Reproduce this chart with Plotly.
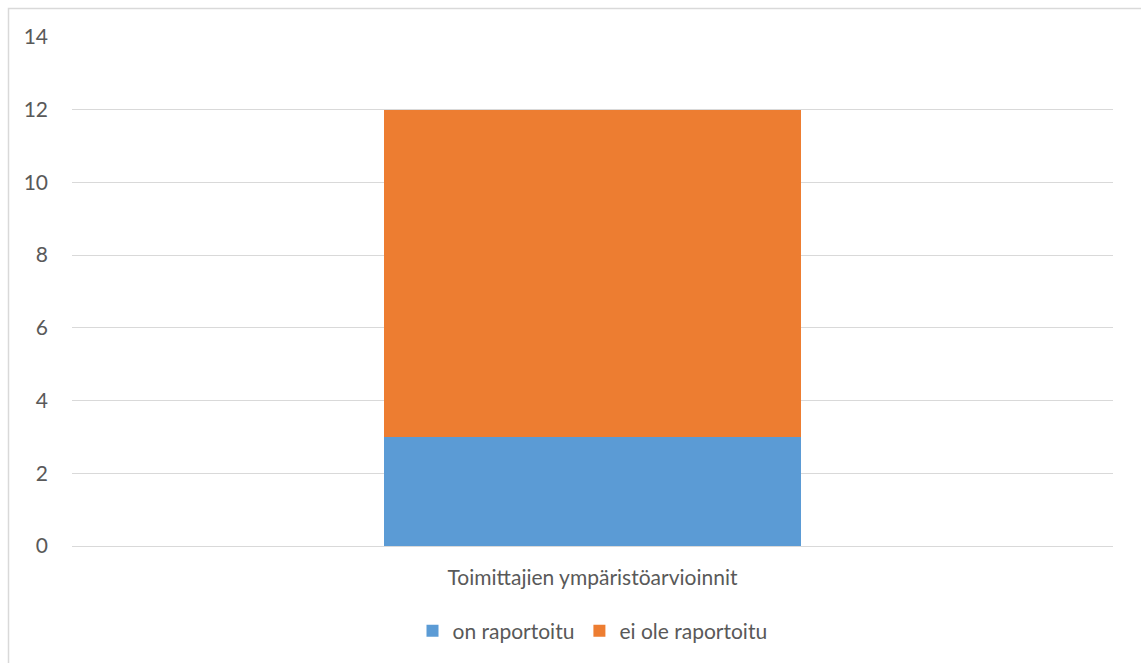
import plotly.graph_objects as go

categories = ["Toimittajien ympäristöarvioinnit"]
on_raportoitu = [3]
ei_ole_raportoitu = [9]
y_ticks = [0, 2, 4, 6, 8, 10, 12, 14]

W, H = 1141, 663
L, R, T, B = 72, 28, 37, 117
pw, ph = W - L - R, H - T - B
FS = 21
FAM = "Lato, Open Sans, sans-serif"

fig = go.Figure()
fig.add_trace(go.Bar(x=categories, y=on_raportoitu, name="on raportoitu",
                     marker=dict(color="#5B9BD5", line=dict(width=0)), width=0.4))
fig.add_trace(go.Bar(x=categories, y=ei_ole_raportoitu, name="ei ole raportoitu",
                     marker=dict(color="#ED7D31", line=dict(width=0)), width=0.4))

def px_x(x):
    return (x - L) / pw

def px_y(y):
    return (H - B - y) / ph

fig.update_layout(
    barmode="stack",
    width=W, height=H,
    margin=dict(l=L, r=R, t=T, b=B, pad=0),
    paper_bgcolor="white", plot_bgcolor="white",
    font=dict(family=FAM, size=FS, color="#595959"),
    showlegend=True,
    legend=dict(orientation="h", x=0.5, xanchor="center", y=px_y(631), yanchor="middle",
                font=dict(family=FAM, size=FS, color="#595959"),
                traceorder="normal", itemwidth=30, tracegroupgap=0),
    xaxis=dict(showgrid=False, zeroline=False, showline=False, ticks="",
               range=[-0.5, 0.5], ticklabelstandoff=17,
               tickfont=dict(family=FAM, size=FS, color="#595959")),
    yaxis=dict(range=[0, 14], tickvals=y_ticks, showgrid=True, gridcolor="#d9d9d9",
               gridwidth=1, zeroline=True, zerolinecolor="#d9d9d9", zerolinewidth=1,
               showline=False, ticks="", ticklabelstandoff=23,
               tickfont=dict(family=FAM, size=FS, color="#595959")),
    shapes=[dict(type="rect", xref="paper", yref="paper",
                 x0=px_x(8.5), x1=px_x(1150), y0=px_y(670), y1=px_y(8.5),
                 line=dict(color="#d9d9d9", width=1.5), fillcolor="rgba(0,0,0,0)",
                 layer="below")],
)

fig.write_html("out.html")
